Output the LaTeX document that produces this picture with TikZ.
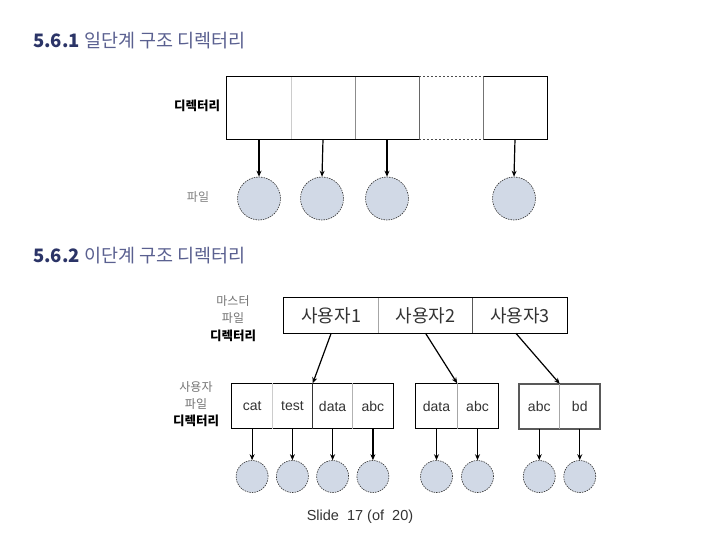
\documentclass[tikz,border=0pt]{standalone}
\usepackage{fontspec}
\setmainfont{Noto Sans CJK KR}
\newfontfamily\latinf{Liberation Sans}
\usetikzlibrary{arrows.meta,calc}
\definecolor{navyA}{HTML}{2B3467}
\definecolor{navyB}{HTML}{5A6090}
\definecolor{filefill}{HTML}{D1D9E6}
\definecolor{txtgray}{HTML}{333333}
\begin{document}
\begin{tikzpicture}[x=1pt,y=-1pt,
  cellA/.style={draw=none,inner sep=0pt,minimum width=64pt,minimum height=62pt},
  ucell/.style={draw=none,inner sep=0pt,minimum width=94.33pt,minimum height=35pt,
     font=\fontsize{18}{20}\selectfont,text=txtgray},
  fcell/.style={draw=none,inner sep=0pt,minimum height=45pt,
     font=\latinf\fontsize{14}{16}\selectfont,text=txtgray},
  filec/.style={circle,fill=filefill,draw=black!80,line width=0.6pt,
     dash pattern=on 1.5pt off 1pt,inner sep=0pt},
  bigfile/.style={filec,minimum size=43pt},
  smallfile/.style={filec,minimum size=32pt},
  arr/.style={-{Stealth[length=6pt,width=5pt]},line width=1.2pt,black},
  frame/.style={line width=1.3pt,black},
  divider/.style={line width=0.9pt},
  lbl/.style={inner sep=0pt,font=\fontsize{12}{13}\selectfont},
  lblb/.style={inner sep=0pt,font=\bfseries\fontsize{12.5}{13}\selectfont,text=black},
  lblg/.style={inner sep=0pt,font=\fontsize{12}{13}\selectfont,text=black!50},
]
\useasboundingbox (0,0) rectangle (720,540);
\fill[white] (0,0) rectangle (720,540);

% titles
\node[anchor=west,inner sep=0pt,font=\fontsize{18.5}{20}\selectfont] (t1) at (33,41)
  {\textcolor{navyA}{\textbf{5.6.1}} \textcolor{navyB}{일단계 구조 디렉터리}};
\node[anchor=west,inner sep=0pt,font=\fontsize{18.5}{20}\selectfont] (t2) at (33,256)
  {\textcolor{navyA}{\textbf{5.6.2}} \textcolor{navyB}{이단계 구조 디렉터리}};

% ---------- one-level directory ----------
\node[cellA] (c1) at (259,108) {};
\node[cellA] (c2) at (323,108) {};
\node[cellA] (c3) at (387,108) {};
\node[cellA] (c4) at (451,108) {};
\node[cellA] (c5) at (515,108) {};
\draw[frame] (c4.north west) -- (c1.north west) -- (c1.south west) -- (c4.south west);
\draw[frame] (c4.north east) -- (c5.north east) -- (c5.south east) -- (c4.south east);
\draw[line width=1.1pt,black!70,dash pattern=on 2.5pt off 1.5pt] (c4.north west) -- (c4.north east);
\draw[line width=1.1pt,black!70,dash pattern=on 2.5pt off 1.5pt] (c4.south west) -- (c4.south east);
\draw[divider,black!20] (c1.north east) -- (c1.south east);
\draw[divider,black!45] (c2.north east) -- (c2.south east);
\draw[divider,black!60] (c3.north east) -- (c3.south east);
\draw[divider,black!55] (c4.north east) -- (c4.south east);

\node[lblb] (ldir) at (197,106) {디렉터리};
\node[lblg] (lfile) at (198,197) {파일};

\node[bigfile] (f1) at (259,198.5) {};
\node[bigfile] (f2) at (322,198.5) {};
\node[bigfile] (f3) at (387,198.5) {};
\node[bigfile] (f5) at (514,198.5) {};
\draw[arr] (c1.south) -- (f1.north);
\draw[arr] (c2.south) -- (f2.north);
\draw[arr] (c3.south) -- (f3.north);
\draw[arr] (c5.south) -- (f5.north);

% ---------- two-level directory ----------
\node[lbl,text=black!55] (lm1) at (233,301) {마스터};
\node[lbl,text=black!55] (lm2) at (233,318) {파일};
\node[lblb] (lm3) at (233,336) {디렉터리};

\node[ucell] (u1) at (331.17,315.5) {사용자1};
\node[ucell] (u2) at (425.5,315.5) {사용자2};
\node[ucell] (u3) at (519.83,315.5) {사용자3};
\draw[frame] (u1.north west) rectangle (u3.south east);
\draw[divider,black!35] (u1.north east) -- (u1.south east);
\draw[divider,black!65] (u2.north east) -- (u2.south east);

\node[lbl,text=black!55] (lu1) at (196,387) {사용자};
\node[lbl,text=black!55] (lu2) at (196,404) {파일};
\node[lblb] (lu3) at (196,421) {디렉터리};

% user directory 1
\node[fcell,minimum width=40.25pt] (a1) at (252.1,406) {cat};
\node[fcell,minimum width=40.25pt] (a2) at (292.4,406) {test};
\node[fcell,minimum width=40.25pt] (a3) at (332.6,406) {data};
\node[fcell,minimum width=40.25pt] (a4) at (372.9,406) {abc};
\draw[frame] (a1.north west) rectangle (a4.south east);
\draw[divider,black!20] (a1.north east) -- (a1.south east);
\draw[divider,black!80] (a2.north east) -- (a2.south east);
\draw[divider,black!30] (a3.north east) -- (a3.south east);

% user directory 2
\node[fcell,minimum width=41pt] (b1) at (436.5,406) {data};
\node[fcell,minimum width=41pt] (b2) at (477.5,406) {abc};
\draw[frame] (b1.north west) rectangle (b2.south east);
\draw[divider,black!35] (b1.north east) -- (b1.south east);

% user directory 3
\node[fcell,minimum width=40.5pt] (d1) at (539.25,406.5) {abc};
\node[fcell,minimum width=40.5pt] (d2) at (579.75,406.5) {bd};
\draw[line width=1.6pt,black!65] (d1.north west) rectangle (d2.south east);
\draw[divider,black!35] (d1.north east) -- (d1.south east);

% arrows from master directory
\draw[arr] (u1.south) -- (a2.north east);
\draw[arr] (u2.south) -- (b1.north east);
\draw[arr] ($(u3.south)+(-4,0)$) -- (d1.north east);

% files
\node[smallfile] (g1) at (252.1,476.5) {};
\node[smallfile] (g2) at (292.4,476.5) {};
\node[smallfile] (g3) at (332.6,476.5) {};
\node[smallfile] (g4) at (372.9,476.5) {};
\node[smallfile] (g5) at (436.5,476.5) {};
\node[smallfile] (g6) at (477.5,476.5) {};
\node[smallfile] (g7) at (539.25,476.5) {};
\node[smallfile] (g8) at (579.75,476.5) {};
\draw[arr] (a1.south) -- (g1.north);
\draw[arr] (a2.south) -- (g2.north);
\draw[arr] (a3.south) -- (g3.north);
\draw[arr] (a4.south) -- (g4.north);
\draw[arr] (b1.south) -- (g5.north);
\draw[arr] (b2.south) -- (g6.north);
\draw[arr] (d1.south) -- (g7.north);
\draw[arr] (d2.south) -- (g8.north);

\node[inner sep=0pt,font=\latinf\fontsize{14.5}{16}\selectfont,text=txtgray] (slide) at (360,517)
  {Slide\ \ 17 (of\ \ 20)};
\end{tikzpicture}
\end{document}
